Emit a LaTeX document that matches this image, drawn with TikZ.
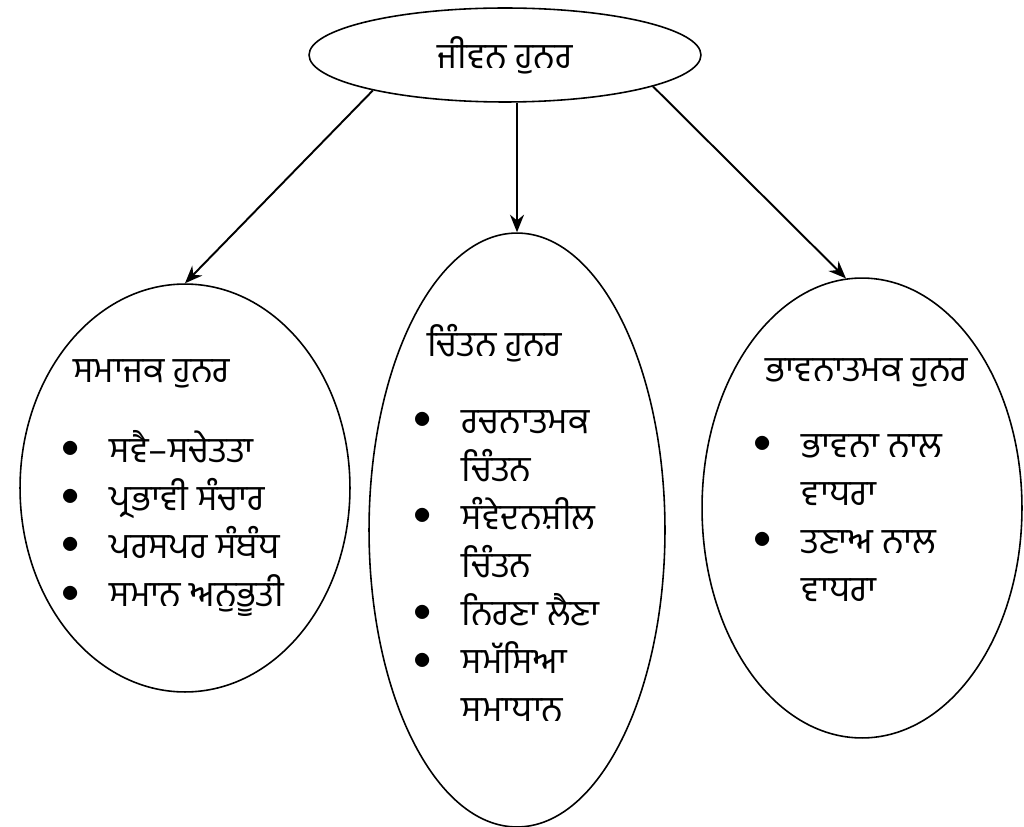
\documentclass[tikz,border=0pt]{standalone}
\usepackage{fontspec}
\newfontfamily\gurmukhi[Script=Gurmukhi]{Hind Jalandhar}
\usepackage{tikz}
\usetikzlibrary{shapes.geometric, arrows.meta}
\newcommand{\pun}{\gurmukhi\fontsize{20.3}{27.4}\selectfont}
\newcommand{\pbul}{\makebox[27.5pt][l]{\raisebox{2.5pt}{$\bullet$}}}
\newcommand{\pind}{\hspace*{27.5pt}}
\tikzstyle{oval}  = [ellipse, draw=black, line width=0.9pt, inner sep=0pt]
\tikzstyle{word}  = [font=\pun, inner sep=0pt, anchor=base west]
\tikzstyle{arrow} = [line width=1.1pt,->,>={Stealth[length=10pt,width=8pt]}]

\begin{document}
\begin{tikzpicture}[x=0.02cm, y=-0.02cm]
      \useasboundingbox (0,0) rectangle (1024,827);

      \node (life)    [oval, font=\pun, minimum width=7.84cm, minimum height=1.88cm] at (505,55) {ਜੀਵਨ ਹੁਨਰ};

      \node (social)  [oval, minimum width=6.6cm,  minimum height=8.16cm]  at (185,488) {};
      \node (think)   [oval, minimum width=5.92cm, minimum height=11.88cm] at (517,530) {};
      \node (emotion) [oval, minimum width=6.4cm,  minimum height=9.2cm]   at (862,508) {};

      \node (socialT)  [word] at (73,382)  {ਸਮਾਜਕ ਹੁਨਰ};
      \node (socialL)  [word] at (61,462)  {\begin{tabular}[t]{@{}l@{}}
          \pbul ਸਵੈ–ਸਚੇਤਤਾ\\
          \pbul ਪ੍ਰਭਾਵੀ ਸੰਚਾਰ\\
          \pbul ਪਰਸਪਰ ਸੰਬੰਧ\\
          \pbul ਸਮਾਨ ਅਨੁਭੂਤੀ
        \end{tabular}};

      \node (thinkT)   [word] at (427,357) {ਚਿੰਤਨ ਹੁਨਰ};
      \node (thinkL)   [word] at (413,433) {\begin{tabular}[t]{@{}l@{}}
          \pbul ਰਚਨਾਤਮਕ\\
          \pind ਚਿੰਤਨ\\
          \pbul ਸੰਵੇਦਨਸ਼ੀਲ\\
          \pind ਚਿੰਤਨ\\
          \pbul ਨਿਰਣਾ ਲੈਣਾ\\
          \pbul ਸਮੱਸਿਆ\\
          \pind ਸਮਾਧਾਨ
        \end{tabular}};

      \node (emotionT) [word] at (765,381) {ਭਾਵਨਾਤਮਕ ਹੁਨਰ};
      \node (emotionL) [word] at (753,457) {\begin{tabular}[t]{@{}l@{}}
          \pbul ਭਾਵਨਾ ਨਾਲ\\
          \pind ਵਾਧਰਾ\\
          \pbul ਤਣਾਅ ਨਾਲ\\
          \pind ਵਾਧਰਾ
        \end{tabular}};

      \draw [arrow] (life.195) -- (social.north);
      \draw [arrow] (life.south -| think.north) -- (think.north);
      \draw [arrow] (life.348) -- (emotion.94);

\end{tikzpicture}
\end{document}
